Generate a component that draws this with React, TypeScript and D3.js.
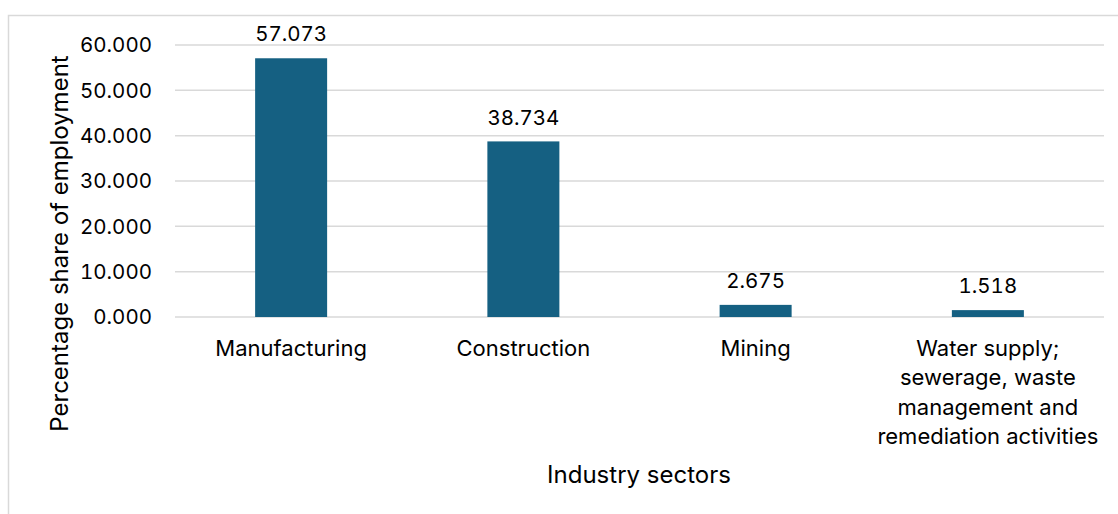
import React from "react";
import * as d3 from "d3";

const categories: string[][] = [
  ["Manufacturing"],
  ["Construction"],
  ["Mining"],
  ["Water supply;", "sewerage, waste", "management and", "remediation activities"],
];
const values: number[] = [57.073, 38.734, 2.675, 1.518];
const yTicks: number[] = [0, 10, 20, 30, 40, 50, 60];
const yTitle = "Percentage share of employment";
const xTitle = "Industry sectors";

const W = 1118;
const H = 514;
const FONT = "Inter, 'Open Sans', sans-serif";

export default function App() {
  const left = 175, right = 1104, top = 45, bottom = 317;
  const xc = d3.scaleBand<number>().domain(d3.range(values.length)).range([left, right]);
  const y = d3.scaleLinear().domain([0, 60]).range([bottom, top]);
  const fmt = d3.format(".3f");
  const num = { fontVariantNumeric: "tabular-nums" as const };
  return (
    <svg width={W} height={H} style={{ position: "absolute", left: 0, top: 0 }} fontFamily={FONT}>
      <rect x={0} y={0} width={W} height={H} fill="#fff" />
      <path d={`M8.5,${H} V15.5 H${W}`} fill="none" stroke="#d9d9d9" strokeWidth={1.5} />
      {yTicks.map((t) => (
        <g key={t}>
          <line x1={left} x2={right} y1={y(t)} y2={y(t)} stroke="#d9d9d9" strokeWidth={1.5} />
          <text x={152} y={y(t)} dy="0.35em" textAnchor="end" fontSize={20.5} fill="#000" style={num}>{fmt(t)}</text>
        </g>
      ))}
      {values.map((v, i) => {
        const bx = xc(i)! + xc.bandwidth() / 2;
        const bw = 72;
        return (
          <g key={i}>
            <rect x={bx - bw / 2} y={y(v)} width={bw} height={y(0) - y(v)} fill="#156082" />
            <text x={bx} y={y(v) - 24} dy="0.35em" textAnchor="middle" fontSize={20.5} fill="#000" style={num}>{fmt(v)}</text>
            {categories[i].map((line, j) => (
              <text key={j} x={bx} y={348 + j * 29.5} dy="0.35em" textAnchor="middle" fontSize={22} fill="#000">{line}</text>
            ))}
          </g>
        );
      })}
      <text transform={`translate(60,${(55 + 432) / 2}) rotate(-90)`} dy="0.35em" textAnchor="middle" fontSize={24} fill="#000">{yTitle}</text>
      <text x={639} y={475} dy="0.35em" textAnchor="middle" fontSize={24} fill="#000">{xTitle}</text>
    </svg>
  );
}
